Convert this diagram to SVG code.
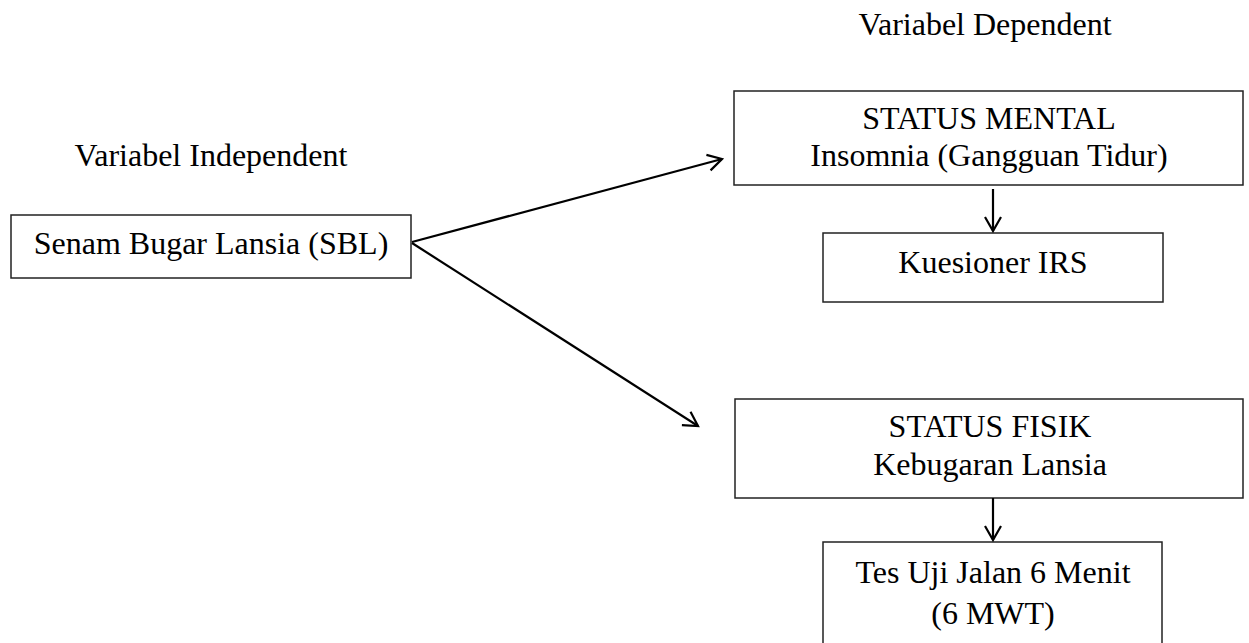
<svg xmlns="http://www.w3.org/2000/svg" width="1249" height="643" viewBox="0 0 1249 643">
  <style>
    .box { fill: #ffffff; stroke: #222222; stroke-width: 1.5; }
    .t { font-family: "Liberation Serif", "Times New Roman", serif; font-size: 32px; fill: #000000; text-anchor: middle; }
    .conn { stroke: #000000; stroke-width: 2.2; fill: none; }
  </style>
  <defs>
    <marker id="arr" markerUnits="userSpaceOnUse" markerWidth="30" markerHeight="30" viewBox="-20 -15 30 30" refX="0" refY="0" orient="auto">
      <path d="M -14 -8 L 0 0 L -14 8" fill="none" stroke="#000000" stroke-width="2.2" stroke-linejoin="miter"/>
    </marker>
  </defs>
  <rect width="1249" height="643" fill="#ffffff"/>

  <g id="label-dependent">
    <text class="t" x="985" y="35">Variabel Dependent</text>
  </g>
  <g id="label-independent">
    <text class="t" x="211" y="166">Variabel Independent</text>
  </g>

  <g id="node-sbl">
    <rect class="box" x="11" y="215" width="400" height="63"/>
    <text class="t" x="211" y="254">Senam Bugar Lansia (SBL)</text>
  </g>

  <g id="node-mental">
    <rect class="box" x="734" y="91" width="509" height="94"/>
    <text class="t" x="989" y="129">STATUS MENTAL</text>
    <text class="t" x="989" y="166">Insomnia (Gangguan Tidur)</text>
  </g>

  <g id="node-irs">
    <rect class="box" x="823" y="233" width="340" height="69"/>
    <text class="t" x="993" y="273">Kuesioner IRS</text>
  </g>

  <g id="node-fisik">
    <rect class="box" x="735" y="399" width="508" height="99"/>
    <text class="t" x="990" y="437">STATUS FISIK</text>
    <text class="t" x="990" y="475">Kebugaran Lansia</text>
  </g>

  <g id="node-6mwt">
    <rect class="box" x="823" y="542" width="339" height="110"/>
    <text class="t" x="993" y="583">Tes Uji Jalan 6 Menit</text>
    <text class="t" x="993" y="624">(6 MWT)</text>
  </g>

  <g id="connectors">
    <line class="conn" x1="412" y1="242" x2="722" y2="159" marker-end="url(#arr)"/>
    <line class="conn" x1="412" y1="243" x2="698" y2="426" marker-end="url(#arr)"/>
    <line class="conn" x1="993" y1="189" x2="993" y2="231" marker-end="url(#arr)"/>
    <line class="conn" x1="993" y1="498" x2="993" y2="540" marker-end="url(#arr)"/>
  </g>
</svg>
